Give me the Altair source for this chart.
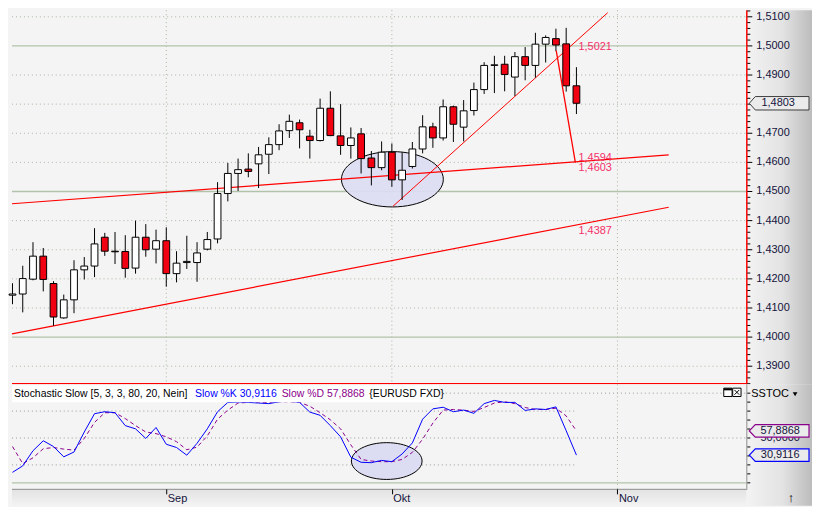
import altair as alt
import pandas as pd

# ---------------- data ----------------
day_index = list(range(-15, 41))          # trading-day index, 0 = 1 Sep
open_price = [1.4144, 1.4148, 1.4199, 1.4278, 1.4184, 1.4066, 1.4128, 1.4231, 1.4244, 1.4343,
              1.4295, 1.4294, 1.4237, 1.4343, 1.4302, 1.4331, 1.4218, 1.4256, 1.4256, 1.4302,
              1.4337, 1.4493, 1.4562, 1.4577, 1.4595, 1.4628, 1.4661, 1.4709, 1.4736, 1.4690,
              1.4675, 1.4786, 1.4691, 1.4658, 1.4698, 1.4615, 1.4582, 1.4635, 1.4540, 1.4586,
              1.4646, 1.4722, 1.4684, 1.4791, 1.4721, 1.4778, 1.4850, 1.4933, 1.4937, 1.4893,
              1.4963, 1.4933, 1.5006, 1.5025, 1.5007, 1.4863]
high_price = [1.4185, 1.4245, 1.4326, 1.4306, 1.4192, 1.4146, 1.4264, 1.4275, 1.4374, 1.4358,
              1.4361, 1.4350, 1.4400, 1.4388, 1.4369, 1.4377, 1.4295, 1.4348, 1.4326, 1.4361,
              1.4532, 1.4598, 1.4613, 1.4631, 1.4653, 1.4686, 1.4731, 1.4764, 1.4747, 1.4712,
              1.4819, 1.4844, 1.4800, 1.4720, 1.4718, 1.4639, 1.4672, 1.4665, 1.4635, 1.4670,
              1.4762, 1.4736, 1.4816, 1.4795, 1.4814, 1.4874, 1.4944, 1.4966, 1.4966, 1.4979,
              1.4996, 1.5045, 1.5036, 1.5059, 1.5062, 1.4927]
low_price = [1.4113, 1.4085, 1.4195, 1.4157, 1.4039, 1.4063, 1.4082, 1.4198, 1.4206, 1.4279,
             1.4251, 1.4204, 1.4218, 1.4276, 1.4253, 1.4173, 1.4188, 1.4234, 1.4190, 1.4298,
             1.4322, 1.4466, 1.4502, 1.4549, 1.4512, 1.4560, 1.4642, 1.4684, 1.4648, 1.4613,
             1.4672, 1.4690, 1.4626, 1.4613, 1.4562, 1.4521, 1.4573, 1.4516, 1.4471, 1.4579,
             1.4631, 1.4650, 1.4675, 1.4670, 1.4672, 1.4761, 1.4835, 1.4838, 1.4844, 1.4828,
             1.4882, 1.4891, 1.4943, 1.4982, 1.4843, 1.4766]
close_price = [1.4148, 1.4201, 1.4278, 1.4198, 1.4069, 1.4128, 1.4231, 1.4244, 1.4320, 1.4295,
               1.4293, 1.4236, 1.4343, 1.4300, 1.4331, 1.4218, 1.4254, 1.4260, 1.4289, 1.4335,
               1.4493, 1.4562, 1.4575, 1.4569, 1.4626, 1.4661, 1.4708, 1.4741, 1.4712, 1.4675,
               1.4786, 1.4692, 1.4658, 1.4684, 1.4613, 1.4582, 1.4635, 1.4540, 1.4573, 1.4646,
               1.4722, 1.4684, 1.4791, 1.4731, 1.4777, 1.4850, 1.4933, 1.4935, 1.4902, 1.4963,
               1.4933, 1.5006, 1.5029, 1.5003, 1.4863, 1.4803]

slow_k = [11.7, 18.9, 35.8, 46.9, 40.5, 29.0, 34.4, 56.7, 77.1, 79.3,
          78.2, 63.8, 60.2, 49.5, 61.7, 43.0, 39.4, 30.8, 44.1, 60.2,
          79.3, 89.7, 90.1, 89.7, 89.0, 88.3, 90.4, 91.1, 89.7, 78.9,
          75.3, 63.8, 51.3, 28.6, 22.9, 22.5, 25.0, 23.6, 32.2, 44.5,
          71.0, 82.5, 84.3, 79.3, 81.1, 77.5, 88.3, 91.9, 89.7, 89.7,
          80.7, 82.5, 81.8, 84.7, 58.1, 30.9116]
slow_d = [40.5, 21.4, 27.9, 38.0, 39.4, 37.6, 36.5, 49.5, 67.4, 78.2,
          78.2, 71.7, 63.8, 56.7, 54.9, 51.3, 45.9, 36.9, 39.8, 52.3,
          71.0, 81.1, 89.0, 89.7, 89.7, 89.7, 90.4, 90.4, 89.7, 85.4,
          78.2, 70.3, 60.2, 42.3, 26.1, 24.3, 23.6, 23.6, 26.1, 34.0,
          48.7, 66.7, 81.1, 81.8, 81.1, 79.6, 84.0, 89.0, 90.4, 88.3,
          84.0, 81.8, 81.8, 83.2, 74.6, 57.8868]

last_close = 1.4803
last_k = 30.9116
last_d = 57.8868

month_ticks = [0, 22, 44]
month_labels = ["Sep", "Okt", "Nov"]
stoch_month_ticks = [44]

price_levels = [1.39, 1.40, 1.41, 1.42, 1.43, 1.44, 1.45, 1.46, 1.47, 1.48, 1.49, 1.50, 1.51]
solid_levels = [1.40, 1.45, 1.50]
minor_levels = [round(1.384 + 0.002 * k, 3) for k in range(65)]

trend_name = ["lower", "upper", "rise", "drop"]
trend_x1 = [-15.05, -15.05, 22.1, 38.03]
trend_p1 = [1.4011, 1.4458, 1.4449, 1.4984]
trend_x2 = [49.0, 49.0, 43.05, 39.9]
trend_p2 = [1.4446, 1.4626, 1.5114, 1.4599]

trend_label_text = ["1,5021", "1,4594", "1,4603", "1,4387"]
trend_label_pos = [1.4997, 1.4615, 1.4579, 1.4364]
trend_label_day = 40.2

ellipse_day, ellipse_price = 22.05, 1.4542
stoch_ellipse_day, stoch_ellipse_val = 21.5, 24.3

stoch_short_levels = [80, 20]
stoch_short_end = 39.8
stoch_full_levels = [50, 100]
stoch_tick_levels = [0, 10, 20, 30, 40, 50, 60, 70, 80, 90, 100]

# ---------------- layout / style ----------------
FONT = "Liberation Sans"
W, H1, H2, DATE_H, RIGHT = 738, 376, 105, 17, 66
X_DOMAIN = [-15.05, 56.57]
P_DOMAIN = [1.38377, 1.51225]
S_DOMAIN = [-6.7, 109.8]
LABEL_COL = "#14143c"
GRID_COL = "#a7b6a0"
SOLID_COL = "#b3c3ab"

xs = alt.Scale(domain=X_DOMAIN, nice=False, zero=False)
ps = alt.Scale(domain=P_DOMAIN, nice=False, zero=False)
ss = alt.Scale(domain=S_DOMAIN, nice=False, zero=False)

label_expr = " : ".join(f"datum.value == {t} ? '{n}'"
                        for t, n in zip(month_ticks, month_labels)) + " : ''"
x_axis = alt.Axis(values=month_ticks, labelExpr=label_expr, title=None, grid=False,
                  domain=False, ticks=True, tickSize=5, tickColor="#000000", tickWidth=1,
                  labelAlign="left", labelBaseline="middle", labelPadding=5, labelOffset=1,
                  labelFont=FONT, labelFontSize=11, labelColor=LABEL_COL,
                  labelFlush=False, labelOverlap=False, zindex=1)


def X(f):
    return alt.X(f, type="quantitative", scale=xs, axis=None)


def SX(f):
    return alt.X(f, type="quantitative", scale=xs, axis=x_axis)


def PY(f):
    return alt.Y(f, type="quantitative", scale=ps, axis=None)


def SY(f):
    return alt.Y(f, type="quantitative", scale=ss, axis=None)


def ellipse_path(b):
    k = 0.5523
    return (f"M1,0 C1,{b*k:.4f} {k:.4f},{b:.4f} 0,{b:.4f} "
            f"C{-k:.4f},{b:.4f} -1,{b*k:.4f} -1,0 "
            f"C-1,{-b*k:.4f} {-k:.4f},{-b:.4f} 0,{-b:.4f} "
            f"C{k:.4f},{-b:.4f} 1,{-b*k:.4f} 1,0 Z")


def box_path(h):
    return f"M-1,0L-0.8,{-h}L1,{-h}L1,{h}L-0.8,{h}Z"


ONE = pd.DataFrame({"k": [0]})
fmt = "replace(format(datum.v, '.4f'), '.', ',')"

grad_right = alt.LinearGradient(
    gradient="linear", x1=0, x2=1, y1=0, y2=0,
    stops=[alt.GradientStop(color="#f3f3f3", offset=0),
           alt.GradientStop(color="#e3e3e3", offset=0.55),
           alt.GradientStop(color="#bcbcbc", offset=1)])
grad_date = alt.LinearGradient(
    gradient="linear", x1=0, x2=0, y1=0, y2=1,
    stops=[alt.GradientStop(color="#e2e2e2", offset=0),
           alt.GradientStop(color="#f3f3f3", offset=1)])

# ---------------- price panel ----------------
candles = pd.DataFrame({"i": day_index, "open": open_price, "high": high_price,
                        "low": low_price, "close": close_price})
dotted_levels = [l for l in price_levels if l not in solid_levels]
minor_only = [m for m in minor_levels
              if min(abs(m - l) for l in price_levels) > 1e-6
              and P_DOMAIN[0] <= m <= P_DOMAIN[1]]
# the last-price marker box covers the axis label next to it
label_levels = [l for l in price_levels if abs(l - last_close) > 0.004]

p_dotted = alt.Chart(pd.DataFrame({"v": dotted_levels})).mark_rule(
    color=GRID_COL, strokeWidth=1, strokeDash=[1, 3]).encode(
    y=PY("v"), x=alt.value(0), x2=alt.value(W))
p_vgrid = alt.Chart(pd.DataFrame({"i": month_ticks})).mark_rule(
    color=GRID_COL, strokeWidth=1, strokeDash=[1, 3]).encode(
    x=X("i"), y=alt.value(0), y2=alt.value(H1))
p_solid = alt.Chart(pd.DataFrame({"v": solid_levels})).mark_rule(
    color=SOLID_COL, strokeWidth=1.4).encode(
    y=PY("v"), x=alt.value(0), x2=alt.value(W))

p_ellipse = alt.Chart(pd.DataFrame({"i": [ellipse_day], "p": [ellipse_price]})).mark_point(
    shape=ellipse_path(0.543), size=(2 * 51.2) ** 2, filled=True, color="#dcdcf2",
    fillOpacity=0.92, stroke="#000000", strokeWidth=1, strokeOpacity=1, opacity=1).encode(
    x=X("i"), y=PY("p"))

trend = pd.DataFrame({"name": trend_name, "x1": trend_x1, "p1": trend_p1,
                      "x2": trend_x2, "p2": trend_p2})


def trend_layer(names, width):
    return alt.Chart(trend).transform_filter(
        alt.FieldOneOfPredicate(field="name", oneOf=names)).mark_rule(
        color="#ff0000", strokeWidth=width).encode(
        x=X("x1"), x2="x2", y=PY("p1"), y2="p2")


p_trend_long = trend_layer(["lower", "upper"], 1.2)
p_trend_rise = trend_layer(["rise"], 1.0)
p_trend_drop = trend_layer(["drop"], 1.3)

p_wicks = alt.Chart(candles).mark_rule(color="#000000", strokeWidth=1).encode(
    x=X("i"), y=PY("low"), y2="high")
p_bodies = alt.Chart(candles).transform_calculate(
    xl="datum.i - 0.33", xr="datum.i + 0.33").mark_rect(
    stroke="#000000", strokeWidth=1).encode(
    x=X("xl"), x2="xr", y=PY("open"), y2="close",
    color=alt.condition("datum.close < datum.open", alt.value("#f00010"), alt.value("#ffffff")))

p_tlabels = alt.Chart(pd.DataFrame({"t": trend_label_text, "p": trend_label_pos,
                                    "i": [trend_label_day] * len(trend_label_text)})).mark_text(
    align="left", baseline="middle", font=FONT, fontSize=11, color="#f5306a").encode(
    x=X("i"), y=PY("p"), text="t:N")

p_right = alt.Chart(ONE).mark_rect(color=grad_right).encode(
    x=alt.value(W), x2=alt.value(W + RIGHT), y=alt.value(0), y2=alt.value(H1))
p_border_v = alt.Chart(ONE).mark_rule(color="#ff0000", strokeWidth=1.5).encode(
    x=alt.value(W + 0.5), y=alt.value(0), y2=alt.value(H1))
p_border_h = alt.Chart(ONE).mark_rule(color="#ff0000", strokeWidth=1.5).encode(
    x=alt.value(0), x2=alt.value(W + 1), y=alt.value(H1 - 0.75))

p_major = alt.Chart(pd.DataFrame({"v": price_levels})).mark_rule(
    color="#000000", strokeWidth=1).encode(y=PY("v"), x=alt.value(W + 1), x2=alt.value(W + 6))
p_minor = alt.Chart(pd.DataFrame({"v": minor_only})).mark_rule(
    color="#000000", strokeWidth=1).encode(y=PY("v"), x=alt.value(W + 1), x2=alt.value(W + 4))
p_labels = alt.Chart(pd.DataFrame({"v": label_levels})).transform_calculate(
    t=fmt).mark_text(align="left", baseline="middle", font=FONT, fontSize=11,
                     color=LABEL_COL).encode(y=PY("v"), x=alt.value(W + 10), text="t:N")

p_box = alt.Chart(pd.DataFrame({"v": [last_close]})).mark_point(
    shape=box_path(0.225), size=3600, filled=True, color="#ebebeb", stroke="#3c3c3c",
    strokeWidth=1, opacity=1).encode(x=alt.value(771), y=PY("v"))
p_box_text = alt.Chart(pd.DataFrame({"v": [last_close]})).transform_calculate(
    t=fmt).mark_text(align="center", baseline="middle", font=FONT, fontSize=11,
                     color=LABEL_COL).encode(x=alt.value(770), y=PY("v"), text="t:N")

price = alt.layer(
    p_dotted, p_vgrid, p_solid, p_ellipse, p_trend_long, p_trend_rise,
    p_wicks, p_bodies, p_trend_drop, p_tlabels, p_right, p_border_v, p_border_h,
    p_major, p_minor, p_labels, p_box, p_box_text
).properties(width=W, height=H1)

# ---------------- stochastic panel ----------------
stoch = pd.DataFrame({"i": day_index, "k": slow_k, "d": slow_d})

s_short = alt.Chart(pd.DataFrame({"v": stoch_short_levels})).transform_calculate(
    xa=str(X_DOMAIN[0]), xb=str(stoch_short_end)).mark_rule(
    color="#9a9a9a", strokeWidth=1, strokeDash=[1, 3]).encode(
    y=SY("v"), x=SX("xa"), x2="xb")
s_full = alt.Chart(pd.DataFrame({"v": stoch_full_levels})).mark_rule(
    color="#9a9a9a", strokeWidth=1, strokeDash=[1, 3]).encode(
    y=SY("v"), x=alt.value(0), x2=alt.value(W))
s_zero = alt.Chart(pd.DataFrame({"v": [0]})).mark_rule(
    color=SOLID_COL, strokeWidth=1.2).encode(y=SY("v"), x=alt.value(0), x2=alt.value(W))
s_vgrid = alt.Chart(pd.DataFrame({"i": stoch_month_ticks})).mark_rule(
    color=GRID_COL, strokeWidth=1, strokeDash=[1, 3]).encode(
    x=SX("i"), y=alt.value(0), y2=alt.value(H2))

s_ellipse = alt.Chart(pd.DataFrame({"i": [stoch_ellipse_day], "v": [stoch_ellipse_val]})).mark_point(
    shape=ellipse_path(0.521), size=(2 * 35.5) ** 2, filled=True, color="#dcdcf2",
    fillOpacity=1, stroke="#000000", strokeWidth=1, strokeOpacity=1, opacity=1).encode(
    x=SX("i"), y=SY("v"))

s_d = alt.Chart(stoch).mark_line(color="#8b008b", strokeWidth=1, strokeDash=[4, 3]).encode(
    x=SX("i"), y=SY("d"))
s_k = alt.Chart(stoch).mark_line(color="#0000ff", strokeWidth=1).encode(
    x=SX("i"), y=SY("k"))

s_head_bg = alt.Chart(ONE).mark_rect(color="#ffffff").encode(
    x=alt.value(0), x2=alt.value(429), y=alt.value(1), y2=alt.value(18))


def head_text(txt, xpos, col):
    return alt.Chart(pd.DataFrame({"t": [txt]})).mark_text(
        align="left", baseline="middle", font=FONT, fontSize=10.5, color=col).encode(
        x=alt.value(xpos), y=alt.value(10), text="t:N")


k_txt = f"Slow %K {last_k:.4f}".replace(".", ",")
d_txt = f"Slow %D {last_d:.4f}".replace(".", ",")
s_h1 = head_text("Stochastic Slow [5, 3, 3, 80, 20, Nein]", 2, "#000000")
s_h2 = head_text(k_txt, 184, "#0000ff")
s_h3 = head_text(d_txt, 271, "#8b008b")
s_h4 = head_text("{EURUSD FXD}", 359, "#000000")


def button(xpos):
    return alt.Chart(ONE).mark_point(
        shape="square", size=70, filled=True, color="#ffffff", stroke="#000000",
        strokeWidth=1, opacity=1).encode(x=alt.value(xpos), y=alt.value(8))


s_btn1 = button(719.5)
s_btn2 = button(728.5)
s_btn_bar = alt.Chart(ONE).mark_rule(color="#000000", strokeWidth=2).encode(
    x=alt.value(715.5), x2=alt.value(723.5), y=alt.value(5))
s_btn_x = alt.Chart(ONE).mark_point(
    shape="M-0.6,-0.6L0.6,0.6M0.6,-0.6L-0.6,0.6", size=64, filled=False,
    color="#000000", strokeWidth=1, opacity=1).encode(x=alt.value(728.5), y=alt.value(8))

s_right = alt.Chart(ONE).mark_rect(color=grad_right).encode(
    x=alt.value(W), x2=alt.value(W + RIGHT), y=alt.value(0), y2=alt.value(H2 + DATE_H))
s_date = alt.Chart(ONE).mark_rect(color=grad_date).encode(
    x=alt.value(0), x2=alt.value(W), y=alt.value(H2), y2=alt.value(H2 + DATE_H))
s_border_v = alt.Chart(ONE).mark_rule(color="#8f8f8f", strokeWidth=1).encode(
    x=alt.value(W + 0.5), y=alt.value(0), y2=alt.value(H2))
s_border_h = alt.Chart(ONE).mark_rule(color="#8f8f8f", strokeWidth=1).encode(
    x=alt.value(0), x2=alt.value(W + 1), y=alt.value(H2 + 0.5))

s_ticks = alt.Chart(pd.DataFrame({"v": stoch_tick_levels})).mark_rule(
    color="#000000", strokeWidth=1).encode(y=SY("v"), x=alt.value(W + 1), x2=alt.value(W + 4))
s_sstoc = alt.Chart(pd.DataFrame({"t": ["SSTOC"]})).mark_text(
    align="left", baseline="middle", font=FONT, fontSize=11, color="#000000").encode(
    x=alt.value(W + 5), y=alt.value(10), text="t:N")
s_arrow_dn = alt.Chart(ONE).mark_point(shape="triangle-down", size=22, filled=True,
                                       color="#000000", opacity=1).encode(
    x=alt.value(787), y=alt.value(10))
s_fifty = alt.Chart(pd.DataFrame({"v": [50.0]})).transform_calculate(t=fmt).mark_text(
    align="center", baseline="middle", font=FONT, fontSize=11, color=LABEL_COL).encode(
    x=alt.value(772), y=SY("v"), text="t:N")


def value_box(val, col):
    box = alt.Chart(pd.DataFrame({"v": [val]})).mark_point(
        shape=box_path(0.21), size=3600, filled=True, color="#ebebeb", stroke=col,
        strokeWidth=1.2, opacity=1).encode(x=alt.value(771), y=SY("v"))
    txt = alt.Chart(pd.DataFrame({"v": [val]})).transform_calculate(t=fmt).mark_text(
        align="center", baseline="middle", font=FONT, fontSize=11, color=LABEL_COL).encode(
        x=alt.value(772), y=SY("v"), text="t:N")
    return [box, txt]


s_up = alt.Chart(pd.DataFrame({"t": ["↑"]})).mark_text(
    align="center", baseline="middle", font=FONT, fontSize=13, color="#000000").encode(
    x=alt.value(783), y=alt.value(H2 + DATE_H / 2 + 1), text="t:N")

stoch_panel = alt.layer(
    s_short, s_full, s_zero, s_vgrid, s_ellipse, s_d, s_k,
    s_head_bg, s_h1, s_h2, s_h3, s_h4, s_btn1, s_btn2, s_btn_bar, s_btn_x,
    s_right, s_date, s_border_v, s_border_h, s_ticks, s_sstoc, s_arrow_dn,
    s_fifty, *value_box(last_d, "#8b008b"), *value_box(last_k, "#0000ff"), s_up
).properties(width=W, height=H2)

chart = alt.vconcat(price, stoch_panel, spacing=0, bounds="flush",
                    background="#f4f4f4", padding=0).configure_view(
    strokeWidth=0, fill="#f4f4f4")

chart.save("out.html", embed_options={"renderer": "svg", "actions": False})
